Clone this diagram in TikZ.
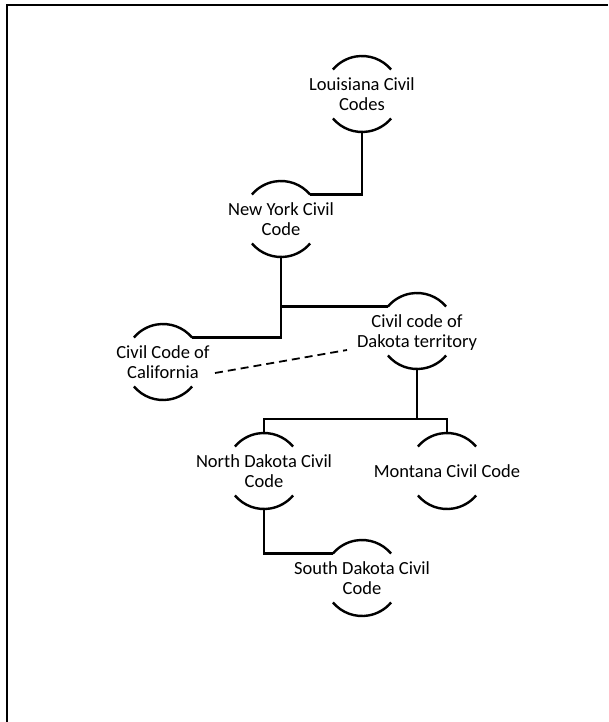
\documentclass[tikz,border=0pt]{standalone}
\usepackage{fontspec}
\setmainfont{Carlito}
\usetikzlibrary{calc}
\newcommand\codearcs[1]{%
  \draw[arcline] (#1.40) arc[start angle=40,end angle=140,radius=38pt];
  \draw[arcline] (#1.220) arc[start angle=220,end angle=320,radius=38pt];}
\newcommand\twolines[2]{\raisebox{-6.6pt}[0pt][0pt]{\makebox[0pt]{\begin{tabular}{@{}c@{}}#1\\#2\end{tabular}}}}
\begin{document}
\begin{tikzpicture}[x=1pt,y=-1pt,
  code/.style={circle,minimum size=76pt,inner sep=0pt,outer sep=0pt,
    font=\fontsize{18.5}{20.7}\selectfont},
  arcline/.style={line width=2.4pt},
  link/.style={line width=2.4pt},
  dashlink/.style={line width=1.8pt,dash pattern=on 8pt off 5pt}]
\useasboundingbox (0,0) rectangle (608,722);
\draw[line width=2.2pt] (7,722) -- (7,5);
\draw[line width=1.6pt] (6,5) -- (608,5);

\node[code] (la) at (362,94) {\twolines{Louisiana Civil}{Codes}};
\node[code] (ny) at (281,219) {\twolines{New York Civil}{Code}};
\node[code] (ca) at (163,362) {\twolines{Civil Code of}{California}};
\node[code] (dt) at (417,331) {\twolines{Civil code of}{Dakota territory}};
\node[code] (nd) at (264,471) {\twolines{North Dakota Civil}{Code}};
\node[code] (mt) at (447,471) {\makebox[0pt]{Montana Civil Code}};
\node[code] (sd) at (362,578) {\twolines{South Dakota Civil}{Code}};

\codearcs{la}\codearcs{ny}\codearcs{ca}\codearcs{dt}\codearcs{nd}\codearcs{mt}\codearcs{sd}

\coordinate (j) at (417,419);
\coordinate (dA) at (215,373);
\coordinate (dB) at (347,350);

\draw[link] (la.south) |- (ny.40);
\draw[link] (ny.south) |- (ca.40);
\draw[link] (ny.south |- dt.140) -- (dt.140);
\draw[link] (dt.south) -- (j);
\draw[link] (nd.north) |- (j) -| (mt.north);
\draw[link] (nd.south) |- (sd.140);
\draw[dashlink] (dA) -- (dB);
\end{tikzpicture}
\end{document}
